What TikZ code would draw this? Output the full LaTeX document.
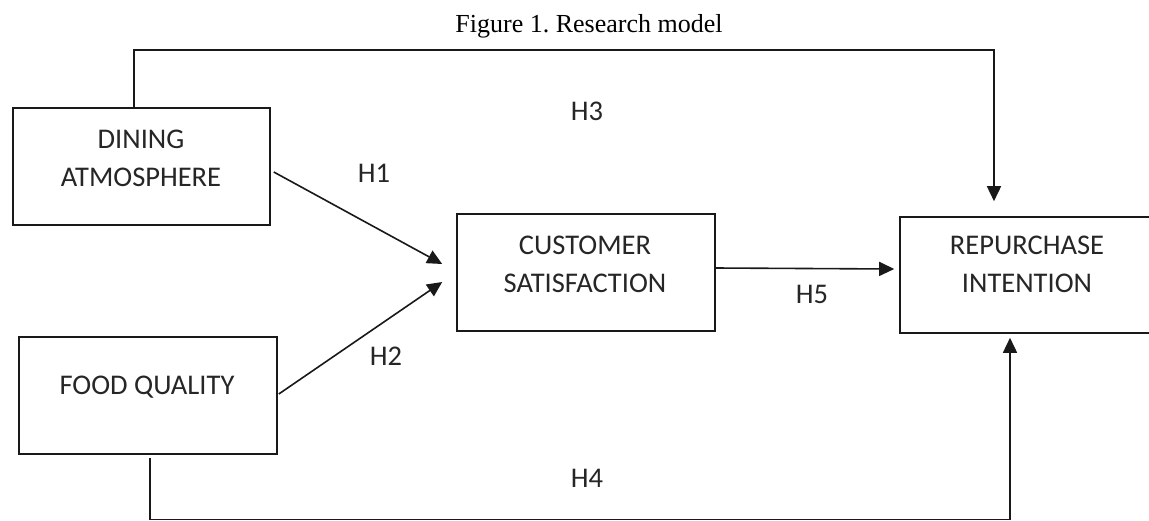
\documentclass[tikz,border=0pt]{standalone}
\usepackage{fontspec}
\setmainfont{Liberation Serif}
\newfontfamily\labelfont{Carlito}
\usetikzlibrary{arrows.meta,calc}
\frenchspacing
\begin{document}
\begin{tikzpicture}[x=1pt,y=-1pt,
  box/.style={draw=black!90,line width=1.6pt,rectangle,inner sep=0pt},
  lbl/.style={font=\labelfont\fontsize{28.5}{38}\selectfont,text=black!85,align=center,inner sep=0pt},
  hyp/.style={font=\labelfont\fontsize{28.5}{38}\selectfont,text=black!85,inner sep=0pt,anchor=base},
  arr/.style={draw=black!90,line width=1.6pt,-{Triangle[length=15pt,width=14pt]}},
  conn/.style={draw=black!90,line width=1.6pt}]
\useasboundingbox (0,0) rectangle (1149,520);
\fill[white] (0,0) rectangle (1149,520);
% title
\node[font=\fontsize{26}{30}\selectfont,anchor=base,inner sep=0pt] (title) at (589,32) {Figure 1. Research model};
% boxes
\node[box,minimum width=257pt,minimum height=117pt] (da) at (141.5,166.5) {};
\node[box,minimum width=258pt,minimum height=117pt] (fq) at (148,395.5) {};
\node[box,minimum width=258pt,minimum height=117pt] (cs) at (586,272.5) {};
\node[box,minimum width=254pt,minimum height=116pt] (ri) at (1027,275) {};
% box texts
\node[lbl] (datext) at (141,158.5) {DINING\\ATMOSPHERE};
\node[lbl,anchor=base] (fqtext) at (147,394) {FOOD QUALITY};
\node[lbl] (cstext) at (585,264) {CUSTOMER\\SATISFACTION};
\node[lbl] (ritext) at (1027,264.5) {REPURCHASE\\INTENTION};
% hypothesis labels
\node[hyp] (h1) at (374,182) {H1};
\node[hyp] (h2) at (386,365) {H2};
\node[hyp] (h3) at (587,120) {H3};
\node[hyp] (h4) at (587,487) {H4};
\node[hyp] (h5) at (812,303) {H5};
% route coordinates
\coordinate (t1) at (134,50);
\coordinate (t2) at (994,50);
\coordinate (b1) at (150,519.5);
\coordinate (b2) at (1010,519.5);
% H3
\draw[arr,shorten >=15pt] (da.north -| t1) -- (t1) -- (t2) -- (ri.north -| t2);
% H4
\draw[arr,shorten <=3pt,shorten >=4pt] (fq.south -| b1) -- (b1) -- (b2) -- (ri.south -| b2);
% H1, H2
\draw[arr] ($(da.east)+(3,5.5)$) -- ($(cs.west)+(-14,-8.5)$);
\draw[arr] ($(fq.east)+(1,-1.5)$) -- ($(cs.west)+(-14,9.5)$);
% H5
\draw[arr] ($(cs.east)+(0,-4.5)$) -- ($(ri.west)+(-5,-6)$);
\end{tikzpicture}
\end{document}
